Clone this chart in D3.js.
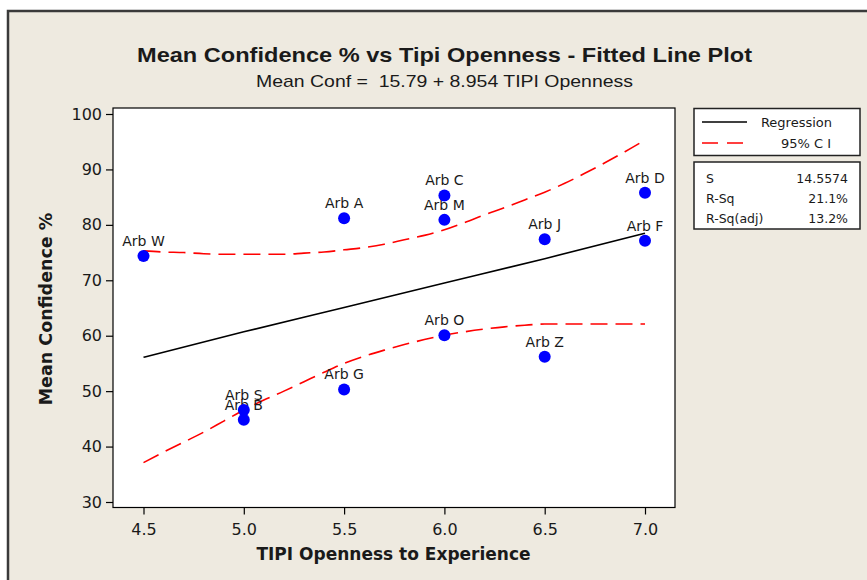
<!DOCTYPE html>
<html>
<head>
    <meta charset="utf-8">
    <title></title>
    <script src="https://cdn.jsdelivr.net/npm/d3@7"></script>
    <style>
        * {
            margin: 0;
            padding: 0;
        }

        body {
            background: #ffffff;
        }

        text {
            font-family: "DejaVu Sans", sans-serif;
            fill: #1a1a1a;
        }
    </style>
</head>
<body>
    <div id="chart"></div>

    <script>
        // points
        var names = ["Arb W", "Arb A", "Arb G", "Arb S", "Arb B", "Arb C", "Arb M", "Arb O", "Arb J", "Arb Z", "Arb D", "Arb F"];
        var openness = [4.5, 5.5, 5.5, 5.0, 5.0, 6.0, 6.0, 6.0, 6.5, 6.5, 7.0, 7.0];
        var confidence = [74.4, 81.2, 50.3, 46.6, 44.85, 85.3, 80.9, 60.1, 77.4, 56.2, 85.8, 77.15];

        // fitted line and 95% CI, read along the x axis
        var regX = [4.5, 5.0, 5.5, 6.0, 6.5, 7.0];
        var regY = [56.1, 60.7, 65.1, 69.5, 73.9, 78.5];
        var ciX = [4.5, 4.6, 4.7, 4.8, 4.9, 5.0, 5.1, 5.2, 5.3, 5.4, 5.5, 5.6, 5.7, 5.8, 5.9, 6.0, 6.1, 6.2, 6.3, 6.4, 6.5, 6.6, 6.7, 6.8, 6.9, 7.0];
        var ciUpper = [75.3, 75.1, 75.0, 74.8, 74.7, 74.7, 74.7, 74.7, 74.9, 75.1, 75.5, 75.9, 76.5, 77.3, 78.1, 79.1, 80.4, 81.8, 83.1, 84.5, 85.9, 87.5, 89.3, 91.2, 93.2, 95.3];
        var ciLower = [37.1, 39.0, 40.8, 42.6, 44.6, 46.6, 48.4, 50.0, 51.7, 53.4, 55.0, 56.3, 57.4, 58.4, 59.3, 60.1, 60.7, 61.2, 61.6, 61.9, 62.1, 62.1, 62.1, 62.1, 62.1, 62.1];

        var xTicks = [4.5, 5.0, 5.5, 6.0, 6.5, 7.0];
        var yTicks = [30, 40, 50, 60, 70, 80, 90, 100];

        var statLabels = ["S", "R-Sq", "R-Sq(adj)"];
        var statValues = ["14.5574", "21.1%", "13.2%"];

        var W = 867, H = 580;
        var svg = d3.select("#chart").append("svg")
            .attr("width", W)
            .attr("height", H);

        // beige panel with its frame (only top and left edges show)
        svg.append("rect")
            .attr("x", 8).attr("y", 11)
            .attr("width", W + 20).attr("height", H + 20)
            .attr("fill", "#eeeae0")
            .attr("stroke", "#3a3a3a")
            .attr("stroke-width", 2.5);

        var x = d3.scaleLinear().domain([4.5, 7.0]).range([143.5, 645]);
        var y = d3.scaleLinear().domain([30, 100]).range([502, 114]);

        var plotL = 113, plotR = 675, plotT = 108, plotB = 507.5;

        svg.append("rect")
            .attr("x", plotL).attr("y", plotT)
            .attr("width", plotR - plotL).attr("height", plotB - plotT)
            .attr("fill", "#ffffff")
            .attr("stroke", "#000")
            .attr("stroke-width", 1.2);

        // axes
        var yAxis = svg.append("g")
            .attr("transform", "translate(" + plotL + ",0)")
            .call(d3.axisLeft(y).tickValues(yTicks).tickSize(7).tickPadding(4).tickFormat(d3.format("d")));
        var xAxis = svg.append("g")
            .attr("transform", "translate(0," + plotB + ")")
            .call(d3.axisBottom(x).tickValues(xTicks).tickSize(7).tickPadding(9).tickFormat(d3.format(".1f")));

        [xAxis, yAxis].forEach(function (g) {
            g.select(".domain").remove();
            g.selectAll(".tick line").attr("stroke", "#000").attr("stroke-width", 1.2);
            g.selectAll(".tick text")
                .style("font-family", "'DejaVu Sans', sans-serif")
                .style("font-size", "16px")
                .attr("fill", "#1a1a1a");
        });

        // lines
        var lineGen = d3.line()
            .x(function (d) { return x(d[0]); })
            .y(function (d) { return y(d[1]); })
            .curve(d3.curveMonotoneX);

        svg.append("path")
            .datum(regX.map(function (v, i) { return [v, regY[i]]; }))
            .attr("d", lineGen)
            .attr("fill", "none")
            .attr("stroke", "#000")
            .attr("stroke-width", 1.6);

        [ciUpper, ciLower].forEach(function (arr) {
            svg.append("path")
                .datum(ciX.map(function (v, i) { return [v, arr[i]]; }))
                .attr("d", lineGen)
                .attr("fill", "none")
                .attr("stroke", "#ff0000")
                .attr("stroke-width", 1.6)
                .attr("stroke-dasharray", "17,8");
        });

        // labels first, points on top
        var pts = names.map(function (n, i) { return { name: n, x: openness[i], y: confidence[i] }; });

        svg.append("g")
            .selectAll("text")
            .data(pts)
            .enter()
            .append("text")
            .attr("x", function (d) { return x(d.x); })
            .attr("y", function (d) { return y(d.y) - 10; })
            .attr("text-anchor", "middle")
            .style("font-size", "14px")
            .text(function (d) { return d.name; });

        svg.append("g")
            .selectAll("circle")
            .data(pts)
            .enter()
            .append("circle")
            .attr("cx", function (d) { return x(d.x); })
            .attr("cy", function (d) { return y(d.y); })
            .attr("r", 6)
            .attr("fill", "#0000ff");

        // titles
        svg.append("text")
            .attr("x", 444.5).attr("y", 62)
            .attr("text-anchor", "middle")
            .attr("textLength", 615)
            .attr("lengthAdjust", "spacingAndGlyphs")
            .style("font-family", "'Liberation Sans Narrow', 'Liberation Sans', Arial, sans-serif")
            .style("font-weight", "bold")
            .style("font-size", "21px")
            .attr("fill", "#000")
            .text("Mean Confidence % vs Tipi Openness - Fitted Line Plot");

        svg.append("text")
            .attr("x", 444.5).attr("y", 87)
            .attr("text-anchor", "middle")
            .attr("textLength", 377)
            .attr("lengthAdjust", "spacingAndGlyphs")
            .style("font-family", "'Liberation Sans Narrow', 'Liberation Sans', Arial, sans-serif")
            .style("font-size", "17px")
            .style("white-space", "pre")
            .attr("fill", "#000")
            .text("Mean Conf =  15.79 + 8.954 TIPI Openness");

        svg.append("text")
            .attr("x", 393.5).attr("y", 560)
            .attr("text-anchor", "middle")
            .style("font-weight", "bold")
            .style("font-size", "17px")
            .text("TIPI Openness to Experience");

        svg.append("text")
            .attr("transform", "translate(52,309) rotate(-90)")
            .attr("text-anchor", "middle")
            .style("font-weight", "bold")
            .style("font-size", "17.5px")
            .text("Mean Confidence %");

        // legend box
        svg.append("rect")
            .attr("x", 694).attr("y", 108.5)
            .attr("width", 166).attr("height", 47)
            .attr("fill", "#fff").attr("stroke", "#222").attr("stroke-width", 1.5);

        svg.append("line")
            .attr("x1", 702).attr("x2", 747).attr("y1", 122).attr("y2", 122)
            .attr("stroke", "#000").attr("stroke-width", 1.6);
        svg.append("line")
            .attr("x1", 702).attr("x2", 743).attr("y1", 143).attr("y2", 143)
            .attr("stroke", "#ff0000").attr("stroke-width", 1.6)
            .attr("stroke-dasharray", "16,9");

        svg.append("text")
            .attr("x", 832).attr("y", 127)
            .attr("text-anchor", "end")
            .style("font-size", "13px")
            .text("Regression");
        svg.append("text")
            .attr("x", 831).attr("y", 148)
            .attr("text-anchor", "end")
            .style("font-size", "13px")
            .style("white-space", "pre")
            .text("95% C I");

        // stats box
        svg.append("rect")
            .attr("x", 694).attr("y", 162)
            .attr("width", 166).attr("height", 67)
            .attr("fill", "#fff").attr("stroke", "#222").attr("stroke-width", 1.5);

        svg.append("g")
            .selectAll("text")
            .data(statLabels)
            .enter()
            .append("text")
            .attr("x", 706)
            .attr("y", function (d, i) { return 183 + 19.8 * i; })
            .style("font-size", "12.5px")
            .text(function (d) { return d; });

        svg.append("g")
            .selectAll("text")
            .data(statValues)
            .enter()
            .append("text")
            .attr("x", 848)
            .attr("y", function (d, i) { return 183 + 19.8 * i; })
            .attr("text-anchor", "end")
            .style("font-size", "12.5px")
            .text(function (d) { return d; });
    </script>
</body>
</html>
